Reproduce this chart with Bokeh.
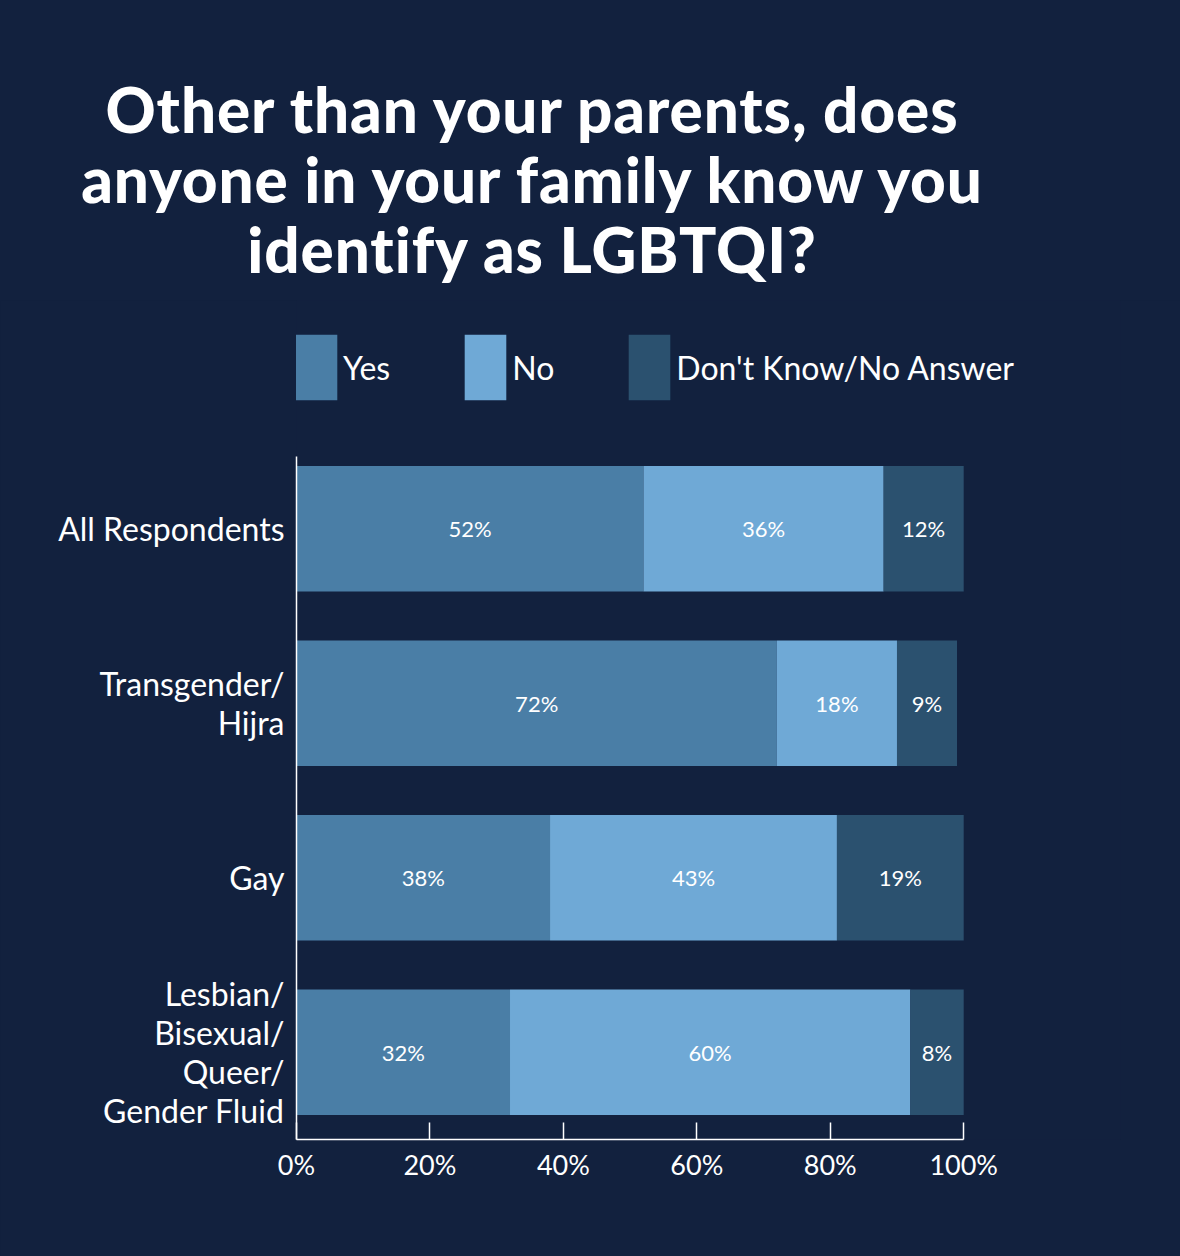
import numpy as np
from bokeh.plotting import figure
from bokeh.layouts import column
from bokeh.models import (Range1d, FixedTicker, PrintfTickFormatter, Legend,
                          LegendItem, ColumnDataSource, Div)
from bokeh.core.properties import value
from bokeh.embed import file_html
from bokeh.resources import INLINE

# ---------------- data ----------------
categories = ["All Respondents", "Transgender/\nHijra", "Gay",
              "Lesbian/\nBisexual/\nQueer/\nGender Fluid"]
series_names = ["Yes", "No", "Don't Know/No Answer"]
yes = [52, 72, 38, 32]
no = [36, 18, 43, 60]
dk = [12, 9, 19, 8]
x_ticks = [0, 20, 40, 60, 80, 100]
title_lines = ["Other than your parents, does",
               "anyone in your family know you",
               "identify as LGBTQI?"]

# ---------------- style ----------------
BG = "#12213e"
colors = ["#4a7ea6", "#6fa9d6", "#2b516f"]
FONT = "Lato"

# ---------------- title ----------------
title_html = ('<div style="width:1064px;padding-top:74px;text-align:center;'
              'font-family:Lato, sans-serif;font-weight:900;font-size:62px;'
              'letter-spacing:0.9px;line-height:70px;color:#ffffff;white-space:nowrap;">'
              + "<br>".join(title_lines) + '</div>')
title = Div(text=title_html, width=1180, height=300, margin=(0, 0, 0, 0),
            styles={"background-color": BG})

# ---------------- chart ----------------
idx = np.arange(len(categories))
yes_a, no_a, dk_a = np.array(yes), np.array(no), np.array(dk)
src = ColumnDataSource(dict(y=idx, yes=yes_a, no=no_a, dk=dk_a))

p = figure(width=1180, height=956, x_range=Range1d(0, 123.5), y_range=Range1d(3.5, -1.308),
           toolbar_location=None, output_backend="svg",
           min_border_left=296, min_border_right=60, min_border_top=0, min_border_bottom=117,
           background_fill_color=BG, border_fill_color=BG, outline_line_color=None,
           margin=(0, 0, 0, 0))
p.grid.visible = False

rs = p.hbar_stack(["yes", "no", "dk"], y="y", height=0.72, color=colors, line_color=None,
                  source=src)

# value labels at segment centres
lefts = [np.zeros(len(yes)), yes_a, yes_a + no_a]
vals = [yes_a, no_a, dk_a]
lx, ly, lt = [], [], []
for l, v in zip(lefts, vals):
    for i in range(len(v)):
        lx.append(l[i] + v[i] / 2)
        ly.append(idx[i])
        lt.append(f"{v[i]}%")
p.text(x=lx, y=ly, text=lt, text_align="center", text_baseline="middle",
       text_color="white", text_font=value(FONT), text_font_size="22px")

# legend (in the upper, empty part of the frame)
legend = Legend(items=[LegendItem(label=n, renderers=[r]) for n, r in zip(series_names, rs)],
                orientation="horizontal", location=(-6, 731), glyph_width=52, glyph_height=82,
                label_standoff=1, spacing=69, padding=0, margin=0,
                background_fill_alpha=0, border_line_color=None,
                label_text_color="white", label_text_font_size="32px",
                label_text_font=FONT)
p.add_layout(legend, "center")

# x axis (drawn only over 0-100 %)
xa = p.xaxis[0]
xa.bounds = (0, 100)
xa.ticker = FixedTicker(ticks=x_ticks)
xa.formatter = PrintfTickFormatter(format="%d%%")
xa.major_label_text_font_size = "27px"
xa.major_label_text_color = "white"
xa.major_label_text_font = FONT
xa.axis_line_color = "white"
xa.axis_line_width = 1.5
xa.major_tick_in = 17
xa.major_tick_out = 0
xa.major_tick_line_color = "white"
xa.major_tick_line_width = 1.5
xa.minor_tick_line_color = None
xa.major_label_standoff = 8

# y axis (line limited to the bar region)
ya = p.yaxis[0]
ya.bounds = (-0.413, 3.5)
ya.ticker = FixedTicker(ticks=[int(i) for i in idx])
ya.major_label_overrides = {int(i): c for i, c in zip(idx, categories)}
ya.major_label_text_font_size = "32px"
ya.major_label_text_line_height = 1.0
ya.major_label_text_color = "white"
ya.major_label_text_font = FONT
ya.axis_line_color = "white"
ya.axis_line_width = 1.5
ya.major_tick_in = 0
ya.major_tick_out = 0
ya.minor_tick_line_color = None
ya.major_label_standoff = 12

layout = column(title, p, spacing=0, styles={"background-color": BG})
html = file_html(layout, INLINE)
html = html.replace("<head>", "<head><style>html,body{background:#12213e;}</style>", 1)
open("out.html", "w").write(html)
